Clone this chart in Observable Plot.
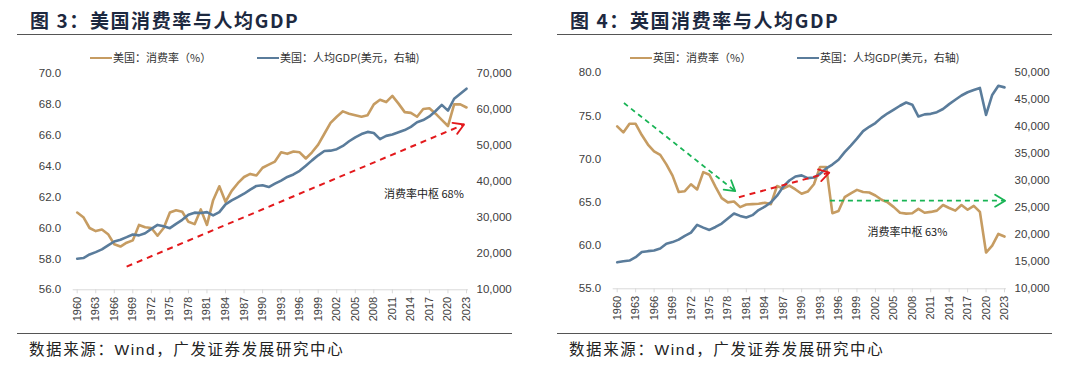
<!DOCTYPE html>
<html><head><meta charset="utf-8">
<script src="https://cdn.jsdelivr.net/npm/d3@7"></script>
<script src="https://cdn.jsdelivr.net/npm/@observablehq/plot@0.6"></script>
<style>
body{margin:0;background:#fff;}
#root{position:relative;width:1080px;height:366px;overflow:hidden;background:#fff;font-family:"Liberation Sans",Arial,"Noto Sans CJK SC",sans-serif;}
.title{position:absolute;top:7px;font-family:"Noto Sans CJK SC",sans-serif;font-weight:700;font-size:19px;letter-spacing:1.6px;color:#1d2940;line-height:26px;white-space:nowrap;}
.hr{position:absolute;height:1px;width:495px;background:#555;}
.legend{position:absolute;top:49px;font-family:"Noto Sans CJK SC",sans-serif;font-size:11px;color:#333;line-height:16px;white-space:nowrap;}
.sw{display:inline-block;width:22px;height:0;border-top:2.5px solid;vertical-align:middle;margin-right:1px;position:relative;top:-1px;}
.src{position:absolute;top:339px;font-family:"Liberation Sans",Arial,"Noto Sans CJK SC",sans-serif;font-size:15.5px;letter-spacing:1.6px;color:#222;line-height:22px;white-space:nowrap;}
.plot{position:absolute;top:62px;}
</style></head>
<body><div id="root"></div>
<script>
// ---------- data ----------
const years = [1960,1961,1962,1963,1964,1965,1966,1967,1968,1969,1970,1971,1972,1973,1974,1975,1976,1977,1978,1979,1980,1981,1982,1983,1984,1985,1986,1987,1988,1989,1990,1991,1992,1993,1994,1995,1996,1997,1998,1999,2000,2001,2002,2003,2004,2005,2006,2007,2008,2009,2010,2011,2012,2013,2014,2015,2016,2017,2018,2019,2020,2021,2022,2023];
const xTicks = [1960,1963,1966,1969,1972,1975,1978,1981,1984,1987,1990,1993,1996,1999,2002,2005,2008,2011,2014,2017,2020,2023];

const usCons = [61.0,60.7,60.0,59.8,59.9,59.6,58.95,58.8,59.05,59.2,60.2,60.05,60.0,59.5,60.0,61.0,61.15,61.05,60.4,60.25,61.2,60.2,61.8,62.7,61.7,62.4,62.9,63.3,63.5,63.4,63.9,64.1,64.3,64.9,64.8,64.95,64.9,64.5,64.9,65.4,66.1,66.8,67.2,67.55,67.4,67.3,67.2,67.3,68.0,68.3,68.15,68.55,68.05,67.5,67.45,67.2,67.7,67.75,67.4,67.0,66.6,68.0,68.0,67.8];
const usGdp = [18600,18800,19800,20450,21200,22300,23400,23900,24600,25350,25100,25700,26900,28000,27600,27100,28300,29400,30800,31400,31300,31550,30650,31550,33700,34800,35700,36650,37800,38800,39000,38500,39450,40300,41300,42000,43000,44400,45900,47300,48500,48600,49000,49900,51200,52300,53200,53800,53500,51800,52700,53100,53700,54300,55200,56500,57100,58100,59600,61300,59700,63000,64400,65800];
const usLeftTicks = [56,58,60,62,64,66,68,70];
const usRightTicks = [10000,20000,30000,40000,50000,60000,70000];
const usArrow = [{x1:1968, y1:57.5, x2:2022.6, y2:66.7}];
const usNote = [{x:2016.1, y:62.2, text:"消费率中枢 68%"}];

const ukCons = [73.8,73.1,74.1,74.1,72.8,71.7,70.9,70.5,69.4,68.1,66.2,66.3,67.1,66.5,68.5,68.2,66.8,65.5,65.0,65.1,64.45,64.75,64.8,64.85,64.95,64.8,66.9,66.6,66.95,66.5,66.0,66.25,67.1,69.1,69.1,63.75,64.0,65.6,66.05,66.45,66.2,66.15,65.8,65.3,65.0,64.45,63.8,63.7,63.75,64.25,63.8,63.9,64.05,64.7,64.35,64.05,64.7,64.15,64.6,63.9,59.2,60.0,61.35,61.05];
const ukGdp = [14900,15100,15230,15850,16800,16970,17100,17480,18350,18650,19100,19800,20400,21830,21330,20900,21450,22080,23000,23950,23500,23200,23640,24580,25200,26000,27250,28900,30050,30800,31000,30500,30600,31300,32300,33000,33900,35300,36500,37800,39200,40000,40700,41700,42500,43200,43900,44500,44100,41900,42300,42400,42700,43300,44200,45000,45800,46400,46800,47200,42200,45900,47600,47300];
const ukLeftTicks = [55,60,65,70,75,80];
const ukRightTicks = [10000,15000,20000,25000,30000,35000,40000,45000,50000];
const ukGreenArrows = [{x1:1961.1, y1:76.5, x2:1979.2, y2:66.3},{x1:1994.6, y1:65.2, x2:2023.1, y2:65.2}];
const ukRedArrow = [{x1:1979.8, y1:65.6, x2:1994.5, y2:68.45}];
const ukNote = [{x:2007.2, y:61.5, text:"消费率中枢 63%"}];

const ORANGE = "#c69c62", BLUE = "#5a7c9b", RED = "#e3191c", GREEN = "#19b455";

// ---------- helpers ----------
function chevron(color) {
  const m = d3.create("svg:marker")
    .attr("viewBox", "-7 -7 14 14")
    .attr("markerUnits", "userSpaceOnUse")
    .attr("markerWidth", 14).attr("markerHeight", 14)
    .attr("orient", "auto")
    .attr("overflow", "visible");
  m.append("path").attr("d", "M-10,-6L0,0L-10,6")
    .attr("fill", "none").attr("stroke", color).attr("stroke-width", 1.8)
    .attr("stroke-dasharray", "none").attr("stroke-linecap", "round").attr("stroke-linejoin", "round");
  return m.node();
}

const root = document.getElementById("root");
function addDiv(cls, style, html) {
  const d = document.createElement("div");
  d.className = cls; d.setAttribute("style", style); d.innerHTML = html; root.appendChild(d); return d;
}

function panel(cfg) {
  const {ox, title, cons, gdp, L, R, leftTicks, rightTicks, leftFmt, mr, mt, mb, marks, lg1, lg2} = cfg;
  const map = v => L[0] + (v - R[0]) / (R[1] - R[0]) * (L[1] - L[0]);
  const inv = d => R[0] + (d - L[0]) / (L[1] - L[0]) * (R[1] - R[0]);
  const data = years.map((y, i) => ({year: y, cons: cons[i], gdp: map(gdp[i])}));

  addDiv("title", `left:${ox + 30}px`, title);
  addDiv("hr", `left:${ox + 17}px;top:34px`, "");
  addDiv("legend", `left:${ox + 90}px`, `<span class="sw" style="border-color:${ORANGE}"></span>${lg1}`);
  addDiv("legend", `left:${ox + 257}px`, `<span class="sw" style="border-color:${BLUE}"></span>${lg2}`);
  addDiv("hr", `left:${ox + 17}px;top:333px`, "");
  addDiv("src", `left:${ox + 29}px`, "数据来源：Wind，广发证券发展研究中心");

  const fmtR = d3.format(",");
  const chart = Plot.plot({
    width: 540, height: 268,
    marginTop: mt, marginBottom: mb, marginLeft: 76.7, marginRight: mr,
    x: {domain: [1960, 2023]},
    y: {domain: L},
    style: {fontFamily: "'Liberation Sans', Arial, 'Noto Sans CJK SC', sans-serif", fontSize: "11.5px", color: "#404040", background: "transparent"},
    marks: [
      Plot.ruleY([L[0]], {stroke: "#d9d9d9", strokeWidth: 1, insetLeft: -4, insetRight: -2}),
      Plot.axisX(xTicks, {tickRotate: -90, tickSize: 4, tickPadding: 3, stroke: "#d9d9d9", fill: "#404040", fontSize: 11, tickFormat: d => String(d), label: null}),
      Plot.axisY(leftTicks, {anchor: "left", tickSize: 0, tickPadding: 16, tickFormat: leftFmt, label: null, fill: "#404040"}),
      Plot.axisY(rightTicks.map(map), {anchor: "right", tickSize: 0, tickPadding: 10, tickFormat: d => fmtR(Math.round(inv(d) / 100) * 100), label: null, fill: "#404040"}),
      Plot.line(data, {x: "year", y: "cons", stroke: ORANGE, strokeWidth: 2.6, strokeLinejoin: "round"}),
      Plot.line(data, {x: "year", y: "gdp", stroke: BLUE, strokeWidth: 2.6, strokeLinejoin: "round"}),
      ...marks
    ]
  });
  chart.classList.add("plot");
  chart.style.left = ox + "px";
  chart.style.position = "absolute";
  chart.style.top = "62px";
  root.appendChild(chart);
}

panel({
  ox: 0, title: "图 3：美国消费率与人均GDP", cons: usCons, gdp: usGdp,
  L: [56, 70], R: [10000, 70000], leftTicks: usLeftTicks, rightTicks: usRightTicks,
  leftFmt: d3.format(".1f"), mr: 74, mt: 11, mb: 40.7,
  lg1: "美国：消费率（%）", lg2: "美国：人均GDP(美元，右轴)",
  marks: [
    Plot.link(usArrow, {x1: "x1", y1: "y1", x2: "x2", y2: "y2", stroke: RED, strokeWidth: 2, strokeDasharray: "6,5", markerEnd: chevron}),
    Plot.text(usNote, {x: "x", y: "y", text: "text", fontSize: 11, fill: "#222", fontFamily: "'Noto Sans CJK SC', sans-serif"})
  ]
});

panel({
  ox: 540, title: "图 4：英国消费率与人均GDP", cons: ukCons, gdp: ukGdp,
  L: [55, 80], R: [10000, 50000], leftTicks: ukLeftTicks, rightTicks: ukRightTicks,
  leftFmt: d3.format(".1f"), mr: 76, mt: 10.3, mb: 41.7,
  lg1: "英国：消费率（%）", lg2: "英国：人均GDP(美元，右轴)",
  marks: [
    Plot.link(ukGreenArrows, {x1: "x1", y1: "y1", x2: "x2", y2: "y2", stroke: GREEN, strokeWidth: 1.8, strokeDasharray: "5,4", markerEnd: chevron}),
    Plot.link(ukRedArrow, {x1: "x1", y1: "y1", x2: "x2", y2: "y2", stroke: RED, strokeWidth: 2, strokeDasharray: "6,5", markerEnd: chevron}),
    Plot.text(ukNote, {x: "x", y: "y", text: "text", fontSize: 11, fill: "#222", fontFamily: "'Noto Sans CJK SC', sans-serif"})
  ]
});
</script>
</body></html>
